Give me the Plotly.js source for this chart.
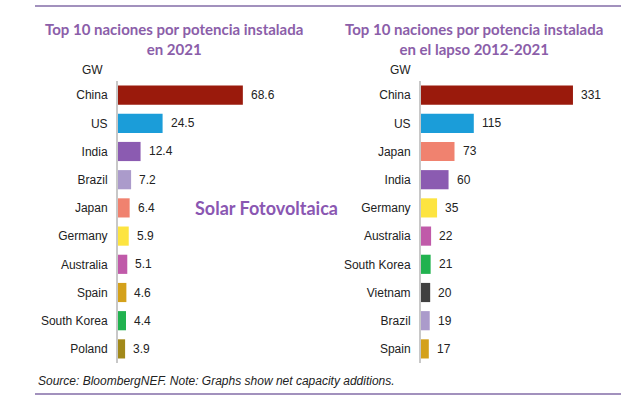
<!DOCTYPE html>
<html><head><meta charset="utf-8">
<script src="https://cdn.plot.ly/plotly-3.0.1.min.js"></script>
<style>body{margin:0;background:#fff}#chart{width:624px;height:399px}</style>
</head><body><div id="chart"></div>
<script>
// Data
const leftCountries = ["China","US","India","Brazil","Japan","Germany","Australia","Spain","South Korea","Poland"];
const leftValues = [68.6,24.5,12.4,7.2,6.4,5.9,5.1,4.6,4.4,3.9];
const leftColors = ["#9a1a0c","#1b9dd9","#8b5bb1","#ab9bcb","#f0826f","#fde440","#c05aa9","#d4a11b","#21b24f","#a2891a"];

const rightCountries = ["China","US","Japan","India","Germany","Australia","South Korea","Vietnam","Brazil","Spain"];
const rightValues = [331,115,73,60,35,22,21,20,19,17];
const rightColors = ["#9a1a0c","#1b9dd9","#f0826f","#8b5bb1","#fde440","#c05aa9","#21b24f","#404040","#ab9bcb","#d4a11b"];

const titleLeft = "Top 10 naciones por potencia instalada<br>en 2021";
const titleRight = "Top 10 naciones por potencia instalada<br>en el lapso 2012-2021";
const unitLabel = "GW";
const centerLabel = "Solar Fotovoltaica";
const sourceText = "Source: BloombergNEF. Note: Graphs show net capacity additions.";

const W = 624, H = 399;
const px = v => v / W, py = v => 1 - v / H;
const purple = "#8b5ea9";
const labFont = {family: "Liberation Sans, Arial, sans-serif", size: 12, color: "#222"};

const traces = [
  {type: "bar", orientation: "h", x: leftValues, y: leftCountries, marker: {color: leftColors},
   width: 0.68, xaxis: "x", yaxis: "y", hoverinfo: "skip"},
  {type: "bar", orientation: "h", x: rightValues, y: rightCountries, marker: {color: rightColors},
   width: 0.68, xaxis: "x2", yaxis: "y2", hoverinfo: "skip"}
];

const annotations = [];
leftValues.forEach((v, i) => annotations.push({x: v, y: leftCountries[i], xref: "x", yref: "y",
  text: v.toFixed(1), showarrow: false, xanchor: "left", xshift: 6, font: labFont}));
rightValues.forEach((v, i) => annotations.push({x: v, y: rightCountries[i], xref: "x2", yref: "y2",
  text: String(v), showarrow: false, xanchor: "left", xshift: 6, font: labFont}));

const titleFont = {family: "Lato, Open Sans, sans-serif", size: 15, color: purple, weight: "bold"};
annotations.push({xref: "paper", yref: "paper", x: px(174), y: py(39), text: "<b>" + titleLeft + "</b>",
  showarrow: false, xanchor: "center", yanchor: "middle", font: titleFont, align: "center"});
annotations.push({xref: "paper", yref: "paper", x: px(474), y: py(39), text: "<b>" + titleRight + "</b>",
  showarrow: false, xanchor: "center", yanchor: "middle", font: titleFont, align: "center"});
annotations.push({xref: "paper", yref: "paper", x: px(92), y: py(70), text: unitLabel, showarrow: false,
  xanchor: "center", yanchor: "middle", font: labFont});
annotations.push({xref: "paper", yref: "paper", x: px(400), y: py(70), text: unitLabel, showarrow: false,
  xanchor: "center", yanchor: "middle", font: labFont});
annotations.push({xref: "paper", yref: "paper", x: px(266), y: py(208), text: "<b>" + centerLabel + "</b>", showarrow: false,
  xanchor: "center", yanchor: "middle", font: {family: "Lato, Open Sans, sans-serif", size: 18, color: "#8a57b2"}});
annotations.push({xref: "paper", yref: "paper", x: px(36), y: py(381), text: "<i>" + sourceText + "</i>", showarrow: false,
  xanchor: "left", yanchor: "middle", font: {family: "Liberation Sans, Arial, sans-serif", size: 12, color: "#222"}});

const yCommon = {type: "category", autorange: "reversed", showline: true, linecolor: "#c8c8c8", linewidth: 2,
  ticks: "", showgrid: false, zeroline: false, tickfont: labFont, ticklabelstandoff: 6,
  domain: [py(363), py(81)], fixedrange: true};

const layout = {
  width: W, height: H, margin: {l: 0, r: 0, t: 0, b: 0},
  paper_bgcolor: "#fff", plot_bgcolor: "rgba(0,0,0,0)", showlegend: false, bargap: 0.3,
  xaxis: {domain: [px(118), px(300)], range: [0, 100], visible: false, fixedrange: true},
  yaxis: Object.assign({}, yCommon, {anchor: "x"}),
  xaxis2: {domain: [px(421), px(623)], range: [0, 440], visible: false, fixedrange: true},
  yaxis2: Object.assign({}, yCommon, {anchor: "x2"}),
  annotations: annotations,
  shapes: [
    {type: "line", xref: "paper", yref: "paper", x0: px(35), x1: px(621), y0: py(6), y1: py(6),
     line: {color: "#a291bd", width: 2}},
    {type: "line", xref: "paper", yref: "paper", x0: px(35), x1: px(621), y0: py(394), y1: py(394),
     line: {color: "#a291bd", width: 2}}
  ]
};

Plotly.newPlot("chart", traces, layout, {displayModeBar: false, staticPlot: true});
</script></body></html>
